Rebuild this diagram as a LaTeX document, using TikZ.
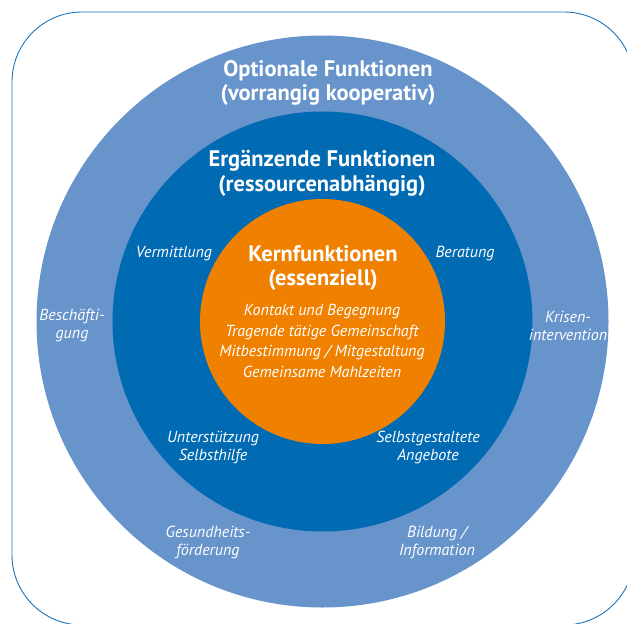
\documentclass[tikz,border=0pt]{standalone}
\usepackage{fontspec}
\setmainfont{PT Sans}
\definecolor{outerblue}{HTML}{6894CC}
\definecolor{midblue}{HTML}{006AB3}
\definecolor{coreorange}{HTML}{F08000}
\definecolor{frameblue}{HTML}{1C75BC}
\tikzset{
  ttl/.style={text=white, font=\bfseries\fontsize{22.5}{24.5}\selectfont, align=center, inner sep=0pt},
  lbl/.style={text=white, font=\itshape\fontsize{16}{18}\selectfont, align=center, inner sep=0pt},
  core/.style={text=white, font=\itshape\fontsize{16}{20.5}\selectfont, align=center, inner sep=0pt}
}
\begin{document}
\begin{tikzpicture}[x=1pt,y=-1pt]
\useasboundingbox (0,0) rectangle (627,624);
\draw[frameblue, line width=0.9pt, rounded corners=70pt] (12,12) rectangle (634,625);
\fill[outerblue] (322.5,321.5) circle (286);
\fill[midblue] (322.5,321.5) circle (210);
\fill[coreorange] (322.5,321.5) circle (122.5);
% titles
\node[ttl] (opt) at (328,83) {Optionale Funktionen\\(vorrangig kooperativ)};
\node[ttl] (erg) at (322,173.5) {Ergänzende Funktionen\\(ressourcenabhängig)};
\node[ttl] (kern) at (323,268) {Kernfunktionen\\(essenziell)};
\node[core] (kernlist) at (322,341) {Kontakt und Begegnung\\Tragende tätige Gemeinschaft\\Mitbestimmung / Mitgestaltung\\Gemeinsame Mahlzeiten};
% middle ring
\node[lbl] (verm) at (174,254) {Vermittlung};
\node[lbl] (ber) at (465,254) {Beratung};
\node[lbl] (unt) at (213,447.5) {Unterstützung\\Selbsthilfe};
\node[lbl] (selb) at (428,447.5) {Selbstgestaltete\\Angebote};
% outer ring
\node[lbl] (besch) at (72,325.5) {Beschäfti-\\gung};
\node[lbl] (kris) at (568,325.5) {Krisen-\\intervention};
\node[lbl] (ges) at (208,542.5) {Gesundheits-\\förderung};
\node[lbl] (bild) at (437,542.5) {Bildung /\\Information};
\end{tikzpicture}
\end{document}
